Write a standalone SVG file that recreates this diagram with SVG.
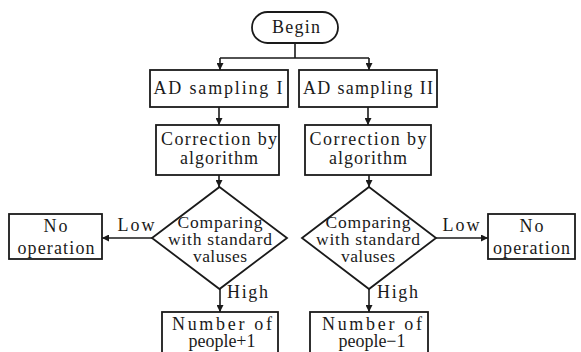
<svg xmlns="http://www.w3.org/2000/svg" width="581" height="352" viewBox="0 0 581 352">
<defs>
<marker id="ah" viewBox="0 0 10 10" refX="10" refY="5" markerWidth="7" markerHeight="7" markerUnits="userSpaceOnUse" orient="auto">
<path d="M0,0 L10,5 L0,10 z" fill="#1a1a1a"/>
</marker>
<style>
.s{fill:#fff;stroke:#1a1a1a;stroke-width:1.8}
.c{fill:none;stroke:#1a1a1a;stroke-width:1.6}
.a{marker-end:url(#ah)}
text{font-family:"Liberation Serif","Times New Roman",serif;font-size:18px;fill:#1a1a1a}
.m{text-anchor:middle}
.t{font-size:17.5px}
</style>
</defs>
<rect width="581" height="352" fill="#fff"/>
<g id="connectors">
<path class="c" d="M295,43 V58 M220,58 H369"/>
<path class="c a" d="M220,58 V70"/>
<path class="c a" d="M369,58 V70"/>
<path class="c a" d="M219,107 V125"/>
<path class="c a" d="M368,107 V125"/>
<path class="c a" d="M219,175 V187"/>
<path class="c a" d="M369,175 V187"/>
<path class="c a" d="M153,238 H102"/>
<path class="c a" d="M436,238 H488"/>
<path class="c a" d="M220,289 V312"/>
<path class="c a" d="M369,289 V312"/>
<text x="136" y="231" class="m" textLength="37" lengthAdjust="spacing">Low</text>
<text x="461" y="231" class="m" textLength="37" lengthAdjust="spacing">Low</text>
<text x="227" y="298" textLength="41" lengthAdjust="spacing">High</text>
<text x="377" y="298" textLength="41" lengthAdjust="spacing">High</text>
</g>
<g id="begin">
<rect class="s" x="252" y="12" width="86" height="31" rx="15.5"/>
<text x="296" y="33" class="m" textLength="48" lengthAdjust="spacing">Begin</text>
</g>
<g id="ad1">
<rect class="s" x="150" y="70" width="138" height="37"/>
<text x="218" y="94" class="m" textLength="129" lengthAdjust="spacing">AD sampling I</text>
</g>
<g id="ad2">
<rect class="s" x="299" y="70" width="138" height="37"/>
<text x="368" y="94" class="m" textLength="130" lengthAdjust="spacing">AD sampling II</text>
</g>
<g id="corr1">
<rect class="s" x="156" y="125" width="123" height="50"/>
<text x="219" y="145" class="m" textLength="116" lengthAdjust="spacing">Correction by</text>
<text x="219" y="164" class="m" textLength="78" lengthAdjust="spacing">algorithm</text>
</g>
<g id="corr2">
<rect class="s" x="305" y="125" width="126" height="50"/>
<text x="368" y="145" class="m" textLength="117" lengthAdjust="spacing">Correction by</text>
<text x="368" y="164" class="m" textLength="78" lengthAdjust="spacing">algorithm</text>
</g>
<g id="cmp1">
<polygon class="s" points="219.5,187 287,238 219.5,289 152,238"/>
<text x="220" y="228" class="m t" textLength="85" lengthAdjust="spacing">Comparing</text>
<text x="220" y="245" class="m t" textLength="104" lengthAdjust="spacing">with standard</text>
<text x="220" y="262" class="m t" textLength="54" lengthAdjust="spacing">valuses</text>
</g>
<g id="cmp2">
<polygon class="s" points="369,187 436,238 369,289 302,238"/>
<text x="368" y="228" class="m t" textLength="85" lengthAdjust="spacing">Comparing</text>
<text x="368" y="245" class="m t" textLength="104" lengthAdjust="spacing">with standard</text>
<text x="368" y="262" class="m t" textLength="54" lengthAdjust="spacing">valuses</text>
</g>
<g id="noop1">
<rect class="s" x="9" y="214" width="93" height="45"/>
<text x="55.5" y="232" class="m" textLength="24" lengthAdjust="spacing">No</text>
<text x="56" y="254" class="m" textLength="77" lengthAdjust="spacing">operation</text>
</g>
<g id="noop2">
<rect class="s" x="488" y="214" width="87" height="45"/>
<text x="531.5" y="232" class="m" textLength="24" lengthAdjust="spacing">No</text>
<text x="531.5" y="254" class="m" textLength="77" lengthAdjust="spacing">operation</text>
</g>
<g id="plus">
<rect class="s" x="162" y="312" width="116" height="44"/>
<text x="222" y="330" class="m" textLength="100" lengthAdjust="spacing">Number of</text>
<text x="222" y="347" class="m" textLength="67" lengthAdjust="spacing">people+1</text>
</g>
<g id="minus">
<rect class="s" x="310" y="312" width="118" height="44"/>
<text x="372" y="330" class="m" textLength="100" lengthAdjust="spacing">Number of</text>
<text x="372" y="347" class="m" textLength="67" lengthAdjust="spacing">people−1</text>
</g>
</svg>
